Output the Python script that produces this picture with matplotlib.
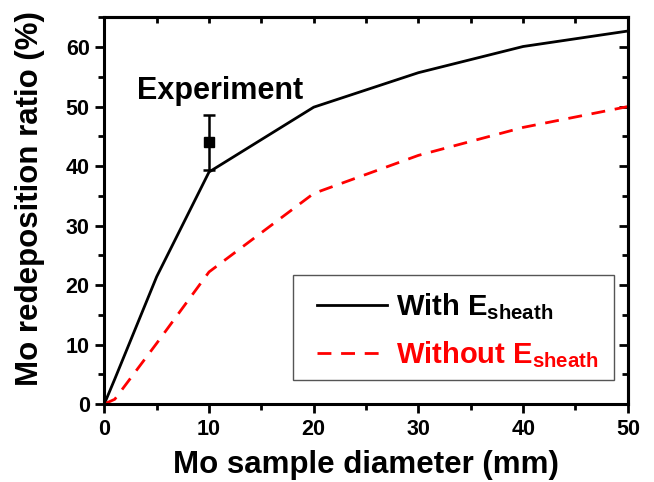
import matplotlib.pyplot as plt
from matplotlib.ticker import MultipleLocator
from matplotlib.patches import Rectangle

plt.rcParams['font.family'] = 'Liberation Sans'
plt.rcParams['font.weight'] = 'bold'
plt.rcParams['mathtext.fontset'] = 'custom'
plt.rcParams['mathtext.rm'] = 'Liberation Sans:bold'
plt.rcParams['mathtext.bf'] = 'Liberation Sans:bold'
plt.rcParams['mathtext.it'] = 'Liberation Sans:bold'

# data
diameter = [0, 1, 5, 10, 20, 30, 40, 50]
with_sheath = [0, 4.2, 21.4, 39.0, 49.9, 55.7, 60.1, 62.7]
without_sheath = [0, 0.8, 10.2, 22.2, 35.4, 41.8, 46.5, 50.0]
exp_x = [10]
exp_y = [44.0]
exp_err = [4.6]

fig = plt.figure(figsize=(6.54, 4.82), dpi=100)
ax = fig.add_axes([0.1595, 0.1618, 0.8005, 0.8022])

ax.plot(diameter, with_sheath, color='black', lw=2, label=r'With $\mathbf{E_{sheath}}$')
ax.plot(diameter, without_sheath, color='red', lw=2, dashes=(5, 3.5),
        label=r'Without $\mathbf{E_{sheath}}$')
ax.errorbar(exp_x, exp_y, yerr=exp_err, fmt='s', color='black', ms=7,
            elinewidth=1.8, capsize=4.5, capthick=1.8)
ax.text(11.05, 51.3, 'Experiment', fontsize=22, fontweight='bold',
        ha='center', va='baseline')

ax.set_xlim(0, 50)
ax.set_ylim(0, 65)
ax.xaxis.set_major_locator(MultipleLocator(10))
ax.xaxis.set_minor_locator(MultipleLocator(5))
ax.yaxis.set_major_locator(MultipleLocator(10))
ax.yaxis.set_minor_locator(MultipleLocator(5))
ax.tick_params(which='both', direction='out', width=2, labelsize=15.5, pad=4)
ax.tick_params(which='major', length=6.5)
ax.tick_params(which='minor', length=4)
for lab in ax.get_xticklabels() + ax.get_yticklabels():
    lab.set_fontweight('bold')
for s in ax.spines.values():
    s.set_linewidth(2.2)

# top and right ticks point inwards
top = ax.secondary_xaxis('top')
top.xaxis.set_major_locator(MultipleLocator(5))
top.tick_params(direction='in', length=4, width=2, labeltop=False)
top.spines['top'].set_linewidth(2.2)
right = ax.secondary_yaxis('right')
right.yaxis.set_major_locator(MultipleLocator(10))
right.yaxis.set_minor_locator(MultipleLocator(5))
right.tick_params(which='major', direction='in', length=6.5, width=2, labelright=False)
right.tick_params(which='minor', direction='in', length=4, width=2)
right.spines['right'].set_linewidth(2.2)

ax.set_xlabel('Mo sample diameter (mm)', fontsize=22.5, fontweight='bold')
ax.set_ylabel('Mo redeposition ratio (%)', fontsize=22.5, fontweight='bold')
ax.xaxis.set_label_coords(0.5, -0.118)
ax.yaxis.set_label_coords(-0.113, 0.531)

# legend frame drawn separately so its padding matches the original
ax.add_patch(Rectangle((0.361, 0.062), 0.612, 0.272, transform=ax.transAxes,
                       fill=False, edgecolor='#555555', lw=1, zorder=4))
leg = ax.legend(loc='upper left', bbox_to_anchor=(0.406, 0.292), borderaxespad=0,
                fontsize=21, frameon=False, borderpad=0,
                handlelength=2.4, handletextpad=0.3, labelcolor=['black', 'red'],
                labelspacing=0.6)

fig.savefig('out.png', dpi=100)
